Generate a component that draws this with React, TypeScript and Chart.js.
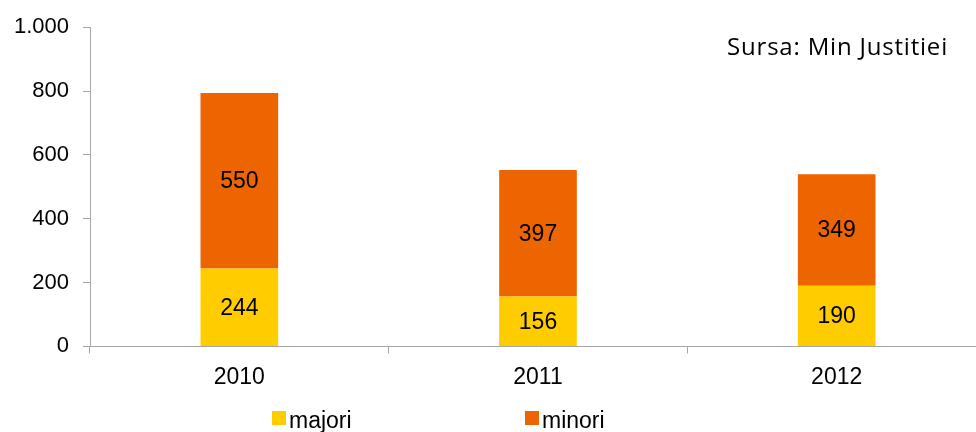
import React, { useEffect, useRef } from "react";
import { Chart, registerables } from "chart.js";

Chart.register(...registerables);

const years = ["2010", "2011", "2012"];
const majori = [244, 156, 190];
const minori = [550, 397, 349];
const yTicks = [0, 200, 400, 600, 800, 1000];
const sourceNote = "Sursa: Min Justitiei";
const seriesNames = ["majori", "minori"];
const seriesColors = ["#ffcc00", "#ec6500"];

const FONT = "'Liberation Sans', Arial, sans-serif";

const fmt = (v: number) => new Intl.NumberFormat("de-DE").format(v);

const overlayPlugin = {
  id: "overlay",
  afterDatasetsDraw(chart: any) {
    const ctx = chart.ctx;
    ctx.save();
    // value labels inside segments
    ctx.font = `23px ${FONT}`;
    ctx.fillStyle = "#000";
    ctx.textAlign = "center";
    ctx.textBaseline = "middle";
    chart.data.datasets.forEach((ds: any, di: number) => {
      const meta = chart.getDatasetMeta(di);
      meta.data.forEach((bar: any, i: number) => {
        const yMid = (bar.y + bar.base) / 2;
        ctx.fillText(String(ds.data[i]), bar.x, yMid + 1);
      });
    });
    // source note
    ctx.font = `24px 'Open Sans', 'Lato', sans-serif`;
    try {
      ctx.letterSpacing = "0.8px";
    } catch (e) {}
    ctx.textAlign = "right";
    ctx.textBaseline = "alphabetic";
    ctx.fillText(sourceNote, 948, 55);
    try {
      ctx.letterSpacing = "0px";
    } catch (e) {}
    // legend
    const legendX = [272, 525];
    const legendY = 419;
    seriesNames.forEach((name, i) => {
      ctx.fillStyle = seriesColors[i];
      ctx.fillRect(legendX[i], legendY - 8, 14, 14);
      ctx.fillStyle = "#000";
      ctx.font = `23px ${FONT}`;
      ctx.textAlign = "left";
      ctx.textBaseline = "middle";
      ctx.fillText(name, legendX[i] + 17, legendY + 3);
    });
    ctx.restore();
  },
};

export default function App() {
  const ref = useRef<HTMLCanvasElement | null>(null);
  useEffect(() => {
    document.body.style.margin = "0";
    document.body.style.overflow = "hidden";
    const chart = new Chart(ref.current!, {
      type: "bar",
      data: {
        labels: years,
        datasets: [
          {
            label: seriesNames[0],
            data: majori,
            backgroundColor: seriesColors[0],
            categoryPercentage: 1,
            barPercentage: 0.26,
          },
          {
            label: seriesNames[1],
            data: minori,
            backgroundColor: seriesColors[1],
            categoryPercentage: 1,
            barPercentage: 0.26,
          },
        ],
      },
      options: {
        animation: false,
        responsive: true,
        maintainAspectRatio: false,
        layout: { padding: { top: 22, bottom: 31, left: 0, right: 4 } },
        plugins: {
          legend: { display: false },
          tooltip: { enabled: false },
        },
        scales: {
          x: {
            stacked: true,
            grid: {
              offset: true,
              drawOnChartArea: false,
              drawTicks: true,
              tickLength: 7,
              color: "#a6a6a6",
            },
            border: { display: true, color: "#a6a6a6" },
            ticks: {
              color: "#000",
              padding: 10,
              font: { family: FONT, size: 23 },
            },
          },
          y: {
            stacked: true,
            min: 0,
            max: 1000,
            afterFit: (s: any) => {
              s.width = 90;
            },
            afterBuildTicks: (s: any) => {
              s.ticks = yTicks.map((v) => ({ value: v }));
            },
            grid: {
              drawOnChartArea: false,
              drawTicks: true,
              tickLength: 7,
              color: "#a6a6a6",
            },
            border: { display: true, color: "#a6a6a6" },
            ticks: {
              color: "#000",
              padding: 14,
              font: { family: FONT, size: 22 },
              callback: (v: any) => fmt(Number(v)),
            },
          },
        },
      },
      plugins: [overlayPlugin],
    });
    return () => chart.destroy();
  }, []);
  return (
    <div style={{ position: "fixed", left: 0, top: 0, width: 976, height: 432, overflow: "hidden", background: "#fff" }}>
      <div style={{ position: "relative", width: 990, height: 432 }}>
        <canvas ref={ref} />
      </div>
    </div>
  );
}
